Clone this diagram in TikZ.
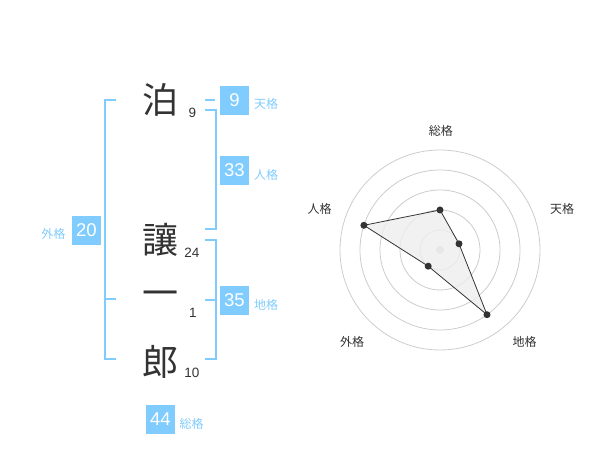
\documentclass[tikz,border=0pt]{standalone}
\usepackage{fontspec}
\setmainfont{Liberation Sans}
\newfontfamily\jp{Noto Sans CJK JP}
\definecolor{lb}{RGB}{128,204,255}
\definecolor{dk}{RGB}{51,51,51}
\definecolor{ringc}{RGB}{204,204,204}
\definecolor{polyfill}{RGB}{238,238,238}
\begin{document}
\begin{tikzpicture}[x=1pt,y=-1pt,
 kanji/.style={font=\jp\fontsize{36}{36}\selectfont, text=dk, inner sep=0},
 strokes/.style={font=\fontsize{13.5}{14}\selectfont, text=dk, inner sep=0},
 numbox/.style={fill=lb, text=white, minimum width=29, minimum height=29, inner sep=0, font=\fontsize{18.5}{18.5}\selectfont},
 gelab/.style={font=\jp\fontsize{12}{12}\selectfont, text=lb, inner sep=0},
 brk/.style={draw=lb, line width=2},
 ring/.style={draw=ringc, line width=0.8},
 axlab/.style={font=\jp\fontsize{12}{12}\selectfont, text=dk, inner sep=0},
 dotpt/.style={circle, fill=dk, inner sep=0, minimum size=7},
]
\useasboundingbox (0,0) rectangle (600,470);

% characters
\node[kanji] (k1) at (160,100) {泊};
\node[kanji] (k2) at (160,240) {讓};
\node[kanji] (k3) at (160,299) {一};
\node[kanji] (k4) at (160,362) {郎};
\node[strokes] (s1) at (192.5,112.7) {9};
\node[strokes] (s2) at (192,252.7) {24};
\node[strokes] (s3) at (193,312.7) {1};
\node[strokes] (s4) at (192,372.5) {10};

% boxes and labels
\node[numbox] (ten) at (234.5,100.5) {9};
\node[gelab] (tenl) at (266,104) {天格};
\node[numbox] (jin) at (234.5,170.5) {33};
\node[gelab] (jinl) at (266,175) {人格};
\node[numbox] (chi) at (234.5,300.5) {35};
\node[gelab] (chil) at (266,304.5) {地格};
\node[numbox] (gai) at (86.5,230.5) {20};
\node[gelab] (gail) at (53.3,234) {外格};
\node[numbox] (sou) at (160.5,419.5) {44};
\node[gelab] (soul) at (191.7,423.7) {総格};

% brackets
\coordinate (L1) at (116,100); \coordinate (L2) at (105,100);
\coordinate (L3) at (105,359.5); \coordinate (L4) at (116,359.5);
\coordinate (Lm1) at (105,299); \coordinate (Lm2) at (116,299);
\draw[brk] (L1) -- (L2) -- (L3) -- (L4);
\draw[brk] (Lm1) -- (Lm2);

\coordinate (T1) at (205,100); \coordinate (T2) at (215,100);
\draw[brk] (T1) -- (T2);

\coordinate (J1) at (205,110); \coordinate (J2) at (216,110);
\coordinate (J3) at (216,229.5); \coordinate (J4) at (205,229.5);
\draw[brk] (J1) -- (J2) -- (J3) -- (J4);

\coordinate (C1) at (205,240); \coordinate (C2) at (216,240);
\coordinate (C3) at (216,359.5); \coordinate (C4) at (205,359.5);
\coordinate (Cm1) at (205,300); \coordinate (Cm2) at (216,300);
\draw[brk] (C1) -- (C2) -- (C3) -- (C4);
\draw[brk] (Cm1) -- (Cm2);

% radar chart
\coordinate (ctr) at (440,250);
\foreach \r in {20,40,60,80,100} \draw[ring] (ctr) circle[radius=\r];
\fill[ringc] (ctr) circle[radius=4];

\coordinate (pSou) at (440,210);
\coordinate (pTen) at (459.0,243.8);
\coordinate (pChi) at (487.0,314.7);
\coordinate (pGai) at (428.2,266.2);
\coordinate (pJin) at (363.9,225.3);
\draw[fill=polyfill, fill opacity=0.8, draw=dk, line width=0.8, line join=round]
  (pSou) -- (pTen) -- (pChi) -- (pGai) -- (pJin) -- cycle;
\foreach \p in {pSou,pTen,pChi,pGai,pJin} \node[dotpt] at (\p) {};

\node[axlab] (aSou) at (440.8,130.5) {総格};
\node[axlab] (aTen) at (562,208.7) {天格};
\node[axlab] (aJin) at (319.5,208.7) {人格};
\node[axlab] (aGai) at (352,342) {外格};
\node[axlab] (aChi) at (524.5,342) {地格};
\end{tikzpicture}
\end{document}
